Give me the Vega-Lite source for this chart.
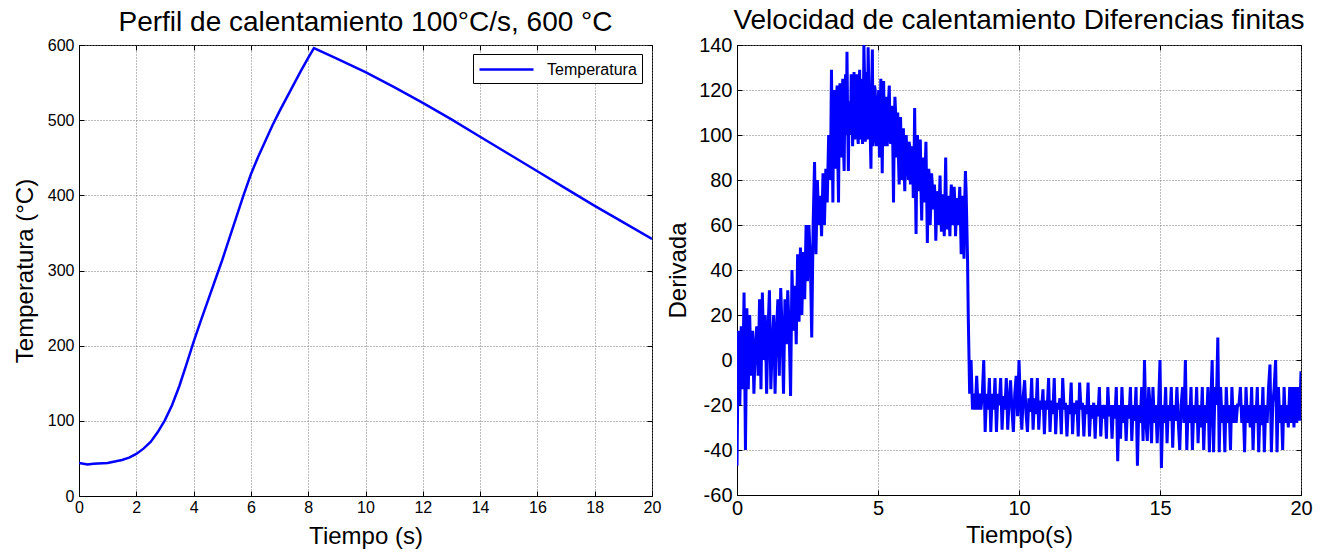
{
  "$schema": "https://vega.github.io/schema/vega-lite/v6.json",
  "padding": {"left": 12, "top": 6, "right": 0, "bottom": 0},
  "background": "white",
  "spacing": 85,
  "bounds": "flush",
  "datasets": {
    "temp": [
      {"t": 0, "T": 44, "serie": "Temperatura"},
      {"t": 0.3, "T": 42, "serie": "Temperatura"},
      {"t": 0.5, "T": 43, "serie": "Temperatura"},
      {"t": 1, "T": 44, "serie": "Temperatura"},
      {"t": 1.5, "T": 48, "serie": "Temperatura"},
      {"t": 1.75, "T": 51, "serie": "Temperatura"},
      {"t": 2, "T": 56, "serie": "Temperatura"},
      {"t": 2.25, "T": 63, "serie": "Temperatura"},
      {"t": 2.5, "T": 72, "serie": "Temperatura"},
      {"t": 2.75, "T": 85, "serie": "Temperatura"},
      {"t": 3, "T": 101, "serie": "Temperatura"},
      {"t": 3.25, "T": 121, "serie": "Temperatura"},
      {"t": 3.5, "T": 146, "serie": "Temperatura"},
      {"t": 3.75, "T": 175, "serie": "Temperatura"},
      {"t": 4, "T": 205, "serie": "Temperatura"},
      {"t": 4.25, "T": 233, "serie": "Temperatura"},
      {"t": 4.5, "T": 260, "serie": "Temperatura"},
      {"t": 4.75, "T": 287, "serie": "Temperatura"},
      {"t": 5, "T": 314, "serie": "Temperatura"},
      {"t": 5.25, "T": 343, "serie": "Temperatura"},
      {"t": 5.5, "T": 372, "serie": "Temperatura"},
      {"t": 5.75, "T": 401, "serie": "Temperatura"},
      {"t": 6, "T": 428, "serie": "Temperatura"},
      {"t": 6.25, "T": 451, "serie": "Temperatura"},
      {"t": 6.5, "T": 472, "serie": "Temperatura"},
      {"t": 6.75, "T": 493, "serie": "Temperatura"},
      {"t": 7, "T": 512, "serie": "Temperatura"},
      {"t": 7.25, "T": 530, "serie": "Temperatura"},
      {"t": 7.5, "T": 548, "serie": "Temperatura"},
      {"t": 7.75, "T": 566, "serie": "Temperatura"},
      {"t": 8, "T": 583, "serie": "Temperatura"},
      {"t": 8.2, "T": 596, "serie": "Temperatura"},
      {"t": 9, "T": 582, "serie": "Temperatura"},
      {"t": 10, "T": 564, "serie": "Temperatura"},
      {"t": 11, "T": 544, "serie": "Temperatura"},
      {"t": 12, "T": 523, "serie": "Temperatura"},
      {"t": 13, "T": 501, "serie": "Temperatura"},
      {"t": 14, "T": 478, "serie": "Temperatura"},
      {"t": 15, "T": 455, "serie": "Temperatura"},
      {"t": 16, "T": 432, "serie": "Temperatura"},
      {"t": 17, "T": 409, "serie": "Temperatura"},
      {"t": 18, "T": 386, "serie": "Temperatura"},
      {"t": 19, "T": 364, "serie": "Temperatura"},
      {"t": 20, "T": 342, "serie": "Temperatura"}
    ],
    "deriv": [
      {"t":0.00,"d":-47},{"t":0.05,"d":13},{"t":0.10,"d":-20},{"t":0.15,"d":15},{"t":0.20,"d":-13},{"t":0.25,"d":30},{"t":0.30,"d":-40},{"t":0.35,"d":23},{"t":0.40,"d":-13},{"t":0.45,"d":20},
      {"t":0.50,"d":-7},{"t":0.55,"d":13},{"t":0.60,"d":-15},{"t":0.65,"d":7},{"t":0.70,"d":15},{"t":0.75,"d":-7},{"t":0.80,"d":27},{"t":0.85,"d":-13},{"t":0.90,"d":30},{"t":0.95,"d":0},
      {"t":1.00,"d":20},{"t":1.05,"d":-15},{"t":1.10,"d":13},{"t":1.15,"d":31},{"t":1.20,"d":-13},{"t":1.25,"d":7},{"t":1.30,"d":20},{"t":1.35,"d":-15},{"t":1.40,"d":13},{"t":1.45,"d":27},
      {"t":1.50,"d":-7},{"t":1.55,"d":32},{"t":1.60,"d":13},{"t":1.65,"d":-15},{"t":1.70,"d":27},{"t":1.75,"d":7},{"t":1.80,"d":31},{"t":1.85,"d":13},{"t":1.90,"d":-16},{"t":1.95,"d":40},
      {"t":2.00,"d":13},{"t":2.05,"d":33},{"t":2.10,"d":7},{"t":2.15,"d":47},{"t":2.20,"d":17},{"t":2.25,"d":50},{"t":2.30,"d":20},{"t":2.35,"d":48},{"t":2.40,"d":27},{"t":2.45,"d":60},
      {"t":2.50,"d":35},{"t":2.55,"d":60},{"t":2.60,"d":45},{"t":2.65,"d":10},{"t":2.70,"d":60},{"t":2.75,"d":88},{"t":2.80,"d":47},{"t":2.85,"d":80},{"t":2.90,"d":60},{"t":2.95,"d":73},
      {"t":3.00,"d":55},{"t":3.05,"d":83},{"t":3.10,"d":60},{"t":3.15,"d":85},{"t":3.20,"d":70},{"t":3.25,"d":100},{"t":3.30,"d":80},{"t":3.35,"d":129},{"t":3.40,"d":70},{"t":3.45,"d":120},
      {"t":3.50,"d":85},{"t":3.55,"d":122},{"t":3.60,"d":70},{"t":3.65,"d":123},{"t":3.70,"d":90},{"t":3.75,"d":125},{"t":3.80,"d":84},{"t":3.85,"d":127},{"t":3.90,"d":137},{"t":3.95,"d":84},
      {"t":4.00,"d":110},{"t":4.05,"d":127},{"t":4.10,"d":95},{"t":4.15,"d":128},{"t":4.20,"d":105},{"t":4.25,"d":127},{"t":4.30,"d":96},{"t":4.35,"d":129},{"t":4.40,"d":110},{"t":4.45,"d":96},
      {"t":4.50,"d":140},{"t":4.55,"d":97},{"t":4.60,"d":128},{"t":4.65,"d":139},{"t":4.70,"d":105},{"t":4.75,"d":85},{"t":4.80,"d":138},{"t":4.85,"d":100},{"t":4.90,"d":120},{"t":4.95,"d":95},
      {"t":5.00,"d":115},{"t":5.05,"d":90},{"t":5.10,"d":125},{"t":5.15,"d":83},{"t":5.20,"d":124},{"t":5.25,"d":95},{"t":5.30,"d":117},{"t":5.35,"d":100},{"t":5.40,"d":122},{"t":5.45,"d":96},
      {"t":5.50,"d":113},{"t":5.55,"d":70},{"t":5.60,"d":117},{"t":5.65,"d":90},{"t":5.70,"d":110},{"t":5.75,"d":78},{"t":5.80,"d":108},{"t":5.85,"d":80},{"t":5.90,"d":103},{"t":5.95,"d":75},
      {"t":6.00,"d":100},{"t":6.05,"d":86},{"t":6.10,"d":97},{"t":6.15,"d":78},{"t":6.20,"d":93},{"t":6.25,"d":72},{"t":6.30,"d":112},{"t":6.35,"d":56},{"t":6.40,"d":100},{"t":6.45,"d":75},
      {"t":6.50,"d":98},{"t":6.55,"d":62},{"t":6.60,"d":90},{"t":6.65,"d":70},{"t":6.70,"d":97},{"t":6.75,"d":52},{"t":6.80,"d":85},{"t":6.85,"d":60},{"t":6.90,"d":83},{"t":6.95,"d":67},
      {"t":7.00,"d":78},{"t":7.05,"d":53},{"t":7.10,"d":73},{"t":7.15,"d":60},{"t":7.20,"d":82},{"t":7.25,"d":57},{"t":7.30,"d":73},{"t":7.35,"d":55},{"t":7.40,"d":90},{"t":7.45,"d":58},
      {"t":7.50,"d":73},{"t":7.55,"d":55},{"t":7.60,"d":78},{"t":7.65,"d":60},{"t":7.70,"d":77},{"t":7.75,"d":55},{"t":7.80,"d":72},{"t":7.85,"d":60},{"t":7.90,"d":77},{"t":7.95,"d":47},
      {"t":8.00,"d":73},{"t":8.05,"d":45},{"t":8.10,"d":84},{"t":8.15,"d":60},{"t":8.20,"d":20},{"t":8.25,"d":-15},{"t":8.30,"d":0},{"t":8.35,"d":-22},{"t":8.40,"d":-15},{"t":8.45,"d":-22},
      {"t":8.50,"d":-7},{"t":8.55,"d":-22},{"t":8.60,"d":-15},{"t":8.65,"d":-22},{"t":8.70,"d":-15},{"t":8.75,"d":0},{"t":8.80,"d":-32},{"t":8.85,"d":-15},{"t":8.90,"d":-22},{"t":8.95,"d":-8},
      {"t":9.00,"d":-32},{"t":9.05,"d":-15},{"t":9.10,"d":-22},{"t":9.15,"d":-8},{"t":9.20,"d":-32},{"t":9.25,"d":-15},{"t":9.30,"d":-20},{"t":9.35,"d":-8},{"t":9.40,"d":-31},{"t":9.45,"d":-16},
      {"t":9.50,"d":-22},{"t":9.55,"d":-8},{"t":9.60,"d":-31},{"t":9.65,"d":-18},{"t":9.70,"d":-9},{"t":9.75,"d":-22},{"t":9.80,"d":-32},{"t":9.85,"d":-15},{"t":9.90,"d":-7},{"t":9.95,"d":-25},
      {"t":10.00,"d":0},{"t":10.05,"d":-20},{"t":10.10,"d":-31},{"t":10.15,"d":-16},{"t":10.20,"d":-9},{"t":10.25,"d":-24},{"t":10.30,"d":-32},{"t":10.35,"d":-17},{"t":10.40,"d":-23},{"t":10.45,"d":-8},
      {"t":10.50,"d":-31},{"t":10.55,"d":-17},{"t":10.60,"d":-24},{"t":10.65,"d":-8},{"t":10.70,"d":-31},{"t":10.75,"d":-18},{"t":10.80,"d":-22},{"t":10.85,"d":-13},{"t":10.90,"d":-33},{"t":10.95,"d":-18},
      {"t":11.00,"d":-22},{"t":11.05,"d":-8},{"t":11.10,"d":-32},{"t":11.15,"d":-18},{"t":11.20,"d":-24},{"t":11.25,"d":-8},{"t":11.30,"d":-33},{"t":11.35,"d":-19},{"t":11.40,"d":-22},{"t":11.45,"d":-17},
      {"t":11.50,"d":-33},{"t":11.55,"d":-8},{"t":11.60,"d":-22},{"t":11.65,"d":-19},{"t":11.70,"d":-34},{"t":11.75,"d":-20},{"t":11.80,"d":-24},{"t":11.85,"d":-10},{"t":11.90,"d":-33},{"t":11.95,"d":-19},
      {"t":12.00,"d":-24},{"t":12.05,"d":-18},{"t":12.10,"d":-34},{"t":12.15,"d":-10},{"t":12.20,"d":-22},{"t":12.25,"d":-19},{"t":12.30,"d":-34},{"t":12.35,"d":-20},{"t":12.40,"d":-24},{"t":12.45,"d":-10},
      {"t":12.50,"d":-34},{"t":12.55,"d":-20},{"t":12.60,"d":-26},{"t":12.65,"d":-19},{"t":12.70,"d":-35},{"t":12.75,"d":-20},{"t":12.80,"d":-25},{"t":12.85,"d":-12},{"t":12.90,"d":-34},{"t":12.95,"d":-20},
      {"t":13.00,"d":-26},{"t":13.05,"d":-20},{"t":13.10,"d":-35},{"t":13.15,"d":-12},{"t":13.20,"d":-25},{"t":13.25,"d":-20},{"t":13.30,"d":-35},{"t":13.35,"d":-20},{"t":13.40,"d":-26},{"t":13.45,"d":-12},
      {"t":13.50,"d":-45},{"t":13.55,"d":-20},{"t":13.60,"d":-35},{"t":13.65,"d":-12},{"t":13.70,"d":-28},{"t":13.75,"d":-20},{"t":13.80,"d":-36},{"t":13.85,"d":-20},{"t":13.90,"d":-26},{"t":13.95,"d":-12},
      {"t":14.00,"d":-36},{"t":14.05,"d":-20},{"t":14.10,"d":-27},{"t":14.15,"d":-12},{"t":14.20,"d":-47},{"t":14.25,"d":-20},{"t":14.30,"d":-28},{"t":14.35,"d":-12},{"t":14.40,"d":-36},{"t":14.45,"d":0},
      {"t":14.50,"d":-28},{"t":14.55,"d":-36},{"t":14.60,"d":-12},{"t":14.65,"d":-20},{"t":14.70,"d":-37},{"t":14.75,"d":-12},{"t":14.80,"d":-28},{"t":14.85,"d":-20},{"t":14.90,"d":-37},{"t":14.95,"d":-20},
      {"t":15.00,"d":0},{"t":15.05,"d":-48},{"t":15.10,"d":-20},{"t":15.15,"d":-28},{"t":15.20,"d":-12},{"t":15.25,"d":-37},{"t":15.30,"d":-20},{"t":15.35,"d":-27},{"t":15.40,"d":-12},{"t":15.45,"d":-39},
      {"t":15.50,"d":-20},{"t":15.55,"d":-27},{"t":15.60,"d":-12},{"t":15.65,"d":-28},{"t":15.70,"d":-40},{"t":15.75,"d":-20},{"t":15.80,"d":-12},{"t":15.85,"d":-28},{"t":15.90,"d":0},{"t":15.95,"d":-40},
      {"t":16.00,"d":-20},{"t":16.05,"d":-28},{"t":16.10,"d":-12},{"t":16.15,"d":-40},{"t":16.20,"d":-20},{"t":16.25,"d":-28},{"t":16.30,"d":-12},{"t":16.35,"d":-37},{"t":16.40,"d":-20},{"t":16.45,"d":-30},
      {"t":16.50,"d":-12},{"t":16.55,"d":-40},{"t":16.60,"d":-20},{"t":16.65,"d":-28},{"t":16.70,"d":-12},{"t":16.75,"d":-41},{"t":16.80,"d":-20},{"t":16.85,"d":0},{"t":16.90,"d":-41},{"t":16.95,"d":-12},
      {"t":17.00,"d":-20},{"t":17.05,"d":10},{"t":17.10,"d":-41},{"t":17.15,"d":-12},{"t":17.20,"d":-28},{"t":17.25,"d":-20},{"t":17.30,"d":-41},{"t":17.35,"d":-12},{"t":17.40,"d":-28},{"t":17.45,"d":-20},
      {"t":17.50,"d":-40},{"t":17.55,"d":-12},{"t":17.60,"d":-28},{"t":17.65,"d":-20},{"t":17.70,"d":-28},{"t":17.75,"d":-20},{"t":17.80,"d":-20},{"t":17.85,"d":-12},{"t":17.90,"d":-28},{"t":17.95,"d":-20},
      {"t":18.00,"d":-41},{"t":18.05,"d":-12},{"t":18.10,"d":-28},{"t":18.15,"d":-20},{"t":18.20,"d":-30},{"t":18.25,"d":-12},{"t":18.30,"d":-40},{"t":18.35,"d":-20},{"t":18.40,"d":-28},{"t":18.45,"d":-12},
      {"t":18.50,"d":-41},{"t":18.55,"d":-20},{"t":18.60,"d":-29},{"t":18.65,"d":-12},{"t":18.70,"d":-41},{"t":18.75,"d":-20},{"t":18.80,"d":-28},{"t":18.85,"d":-12},{"t":18.90,"d":-2},{"t":18.95,"d":-41},
      {"t":19.00,"d":-20},{"t":19.05,"d":-12},{"t":19.10,"d":0},{"t":19.15,"d":-41},{"t":19.20,"d":-12},{"t":19.25,"d":-28},{"t":19.30,"d":-20},{"t":19.35,"d":-40},{"t":19.40,"d":-12},{"t":19.45,"d":-28},
      {"t":19.50,"d":-20},{"t":19.55,"d":-30},{"t":19.60,"d":-12},{"t":19.65,"d":-28},{"t":19.70,"d":-12},{"t":19.75,"d":-30},{"t":19.80,"d":-12},{"t":19.85,"d":-28},{"t":19.90,"d":-12},{"t":19.95,"d":-27},
      {"t":20.00,"d":-5},
      {"t":3.325,"d":95},{"t":3.375,"d":100},{"t":3.425,"d":110},{"t":3.475,"d":95},{"t":3.525,"d":115},{"t":3.575,"d":90},{"t":3.625,"d":110},{"t":3.675,"d":100},{"t":3.725,"d":112},{"t":3.775,"d":95},
      {"t":3.825,"d":118},{"t":3.875,"d":100},{"t":3.925,"d":105},{"t":3.975,"d":115},{"t":4.025,"d":100},{"t":4.075,"d":120},{"t":4.125,"d":110},{"t":4.175,"d":98},{"t":4.225,"d":125},{"t":4.275,"d":100},
      {"t":4.325,"d":120},{"t":4.375,"d":98},{"t":4.425,"d":125},{"t":4.475,"d":100},{"t":4.525,"d":125},{"t":4.575,"d":110},{"t":4.625,"d":98},{"t":4.675,"d":120},{"t":4.725,"d":100},{"t":4.775,"d":120},
      {"t":4.825,"d":95},{"t":4.875,"d":122},{"t":4.925,"d":100},{"t":4.975,"d":110},{"t":5.025,"d":120},{"t":5.075,"d":100},{"t":5.125,"d":110},{"t":5.175,"d":115},{"t":5.225,"d":100},{"t":5.275,"d":110},
      {"t":5.325,"d":95},{"t":5.375,"d":115},{"t":5.425,"d":100},{"t":5.475,"d":110},{"t":5.525,"d":95},{"t":5.575,"d":100},{"t":5.625,"d":110},{"t":5.675,"d":95},{"t":5.725,"d":90},{"t":5.775,"d":100},
      {"t":5.825,"d":90},{"t":5.875,"d":95},{"t":5.925,"d":85},{"t":5.975,"d":95},{"t":6.025,"d":90},{"t":6.075,"d":80},{"t":6.125,"d":95},{"t":6.175,"d":85},{"t":6.225,"d":95},{"t":6.275,"d":85},
      {"t":6.325,"d":80},{"t":6.375,"d":90},{"t":6.425,"d":80},{"t":6.475,"d":90},{"t":6.525,"d":75},{"t":6.575,"d":85},{"t":6.625,"d":78},{"t":6.675,"d":85},{"t":6.725,"d":75},{"t":6.775,"d":72},
      {"t":6.825,"d":80},{"t":6.875,"d":70},{"t":6.925,"d":78},{"t":6.975,"d":70},{"t":7.025,"d":72},{"t":7.075,"d":65},{"t":7.125,"d":75},{"t":7.175,"d":70},{"t":7.225,"d":65},{"t":7.275,"d":73},
      {"t":7.325,"d":62},{"t":7.375,"d":72},{"t":7.425,"d":65},{"t":7.475,"d":70},{"t":7.525,"d":62},{"t":7.575,"d":70},{"t":7.625,"d":65},{"t":7.675,"d":62},{"t":7.725,"d":70},{"t":7.775,"d":65},
      {"t":7.825,"d":62},{"t":7.875,"d":70},{"t":7.925,"d":62},{"t":7.975,"d":65},{"t":8.025,"d":60},{"t":8.075,"d":70},{"t":8.125,"d":75},{"t":8.175,"d":45}
    ]
  },
  "hconcat": [
    {
      "width": 573,
      "height": 451,
      "data": {"name": "temp"},
      "title": {"text": "Perfil de calentamiento 100°C/s, 600 °C", "fontSize": 28, "fontWeight": "normal", "font": "Liberation Sans", "offset": 0, "color": "black"},
      "layer": [
        {
          "mark": {"type": "line", "strokeWidth": 2.5, "clip": true},
          "encoding": {
            "x": {"field": "t", "type": "quantitative", "scale": {"domain": [0, 20], "nice": false, "zero": false},
                  "axis": {"title": "Tiempo (s)", "values": [0,2,4,6,8,10,12,14,16,18,20], "labelFontSize": 16, "titleFontSize": 24, "labelPadding": 8, "titlePadding": 9}},
            "y": {"field": "T", "type": "quantitative", "scale": {"domain": [0, 600], "nice": false},
                  "axis": {"title": "Temperatura (°C)", "values": [0,100,200,300,400,500,600], "labelFontSize": 16, "titleFontSize": 24, "labelPadding": 10, "titlePadding": 10}},
            "color": {"field": "serie", "type": "nominal", "scale": {"range": ["#0000ff"]},
                      "legend": {"title": null, "orient": "none", "legendX": 394, "legendY": 9, "symbolType": "M-3,0L3,0", "symbolSize": 324, "symbolOffset": 18, "symbolStrokeWidth": 2.5, "labelFontSize": 16, "labelFont": "Liberation Sans", "labelColor": "black", "labelOffset": 30, "strokeColor": "black", "fillColor": "white", "padding": 5}}
          }
        },
        {
          "mark": {"type": "line", "opacity": 0},
          "encoding": {
            "x": {"field": "t", "type": "quantitative", "axis": {"orient": "top", "title": null, "labels": false, "domain": false, "grid": false, "values": [0,2,4,6,8,10,12,14,16,18,20]}},
            "y": {"field": "T", "type": "quantitative", "axis": {"orient": "right", "title": null, "labels": false, "domain": false, "grid": false, "values": [0,100,200,300,400,500,600]}}
          }
        }
      ],
      "resolve": {"axis": {"x": "independent", "y": "independent"}}
    },
    {
      "width": 564,
      "height": 450,
      "data": {"name": "deriv"},
      "title": {"text": "Velocidad de calentamiento Diferencias finitas", "fontSize": 28, "fontWeight": "normal", "font": "Liberation Sans", "offset": 0, "color": "black"},
      "layer": [
        {
          "mark": {"type": "line", "strokeWidth": 3, "color": "#0000ff", "clip": true},
          "encoding": {
            "x": {"field": "t", "type": "quantitative", "scale": {"domain": [0, 20], "nice": false, "zero": false},
                  "axis": {"title": "Tiempo(s)", "values": [0,5,10,15,20], "labelFontSize": 20, "titleFontSize": 24, "labelPadding": 8, "titlePadding": 5}},
            "y": {"field": "d", "type": "quantitative", "scale": {"domain": [-60, 140], "nice": false},
                  "axis": {"title": "Derivada", "values": [-60,-40,-20,0,20,40,60,80,100,120,140], "labelExpr": "replace(datum.label, '\u2212', '-')", "labelFontSize": 20, "titleFontSize": 24, "labelPadding": 10, "titlePadding": 8}}
          }
        },
        {
          "mark": {"type": "line", "opacity": 0},
          "encoding": {
            "x": {"field": "t", "type": "quantitative", "axis": {"orient": "top", "title": null, "labels": false, "domain": false, "grid": false, "values": [0,5,10,15,20]}},
            "y": {"field": "d", "type": "quantitative", "axis": {"orient": "right", "title": null, "labels": false, "domain": false, "grid": false, "values": [-60,-40,-20,0,20,40,60,80,100,120,140]}}
          }
        }
      ],
      "resolve": {"axis": {"x": "independent", "y": "independent"}}
    }
  ],
  "config": {
    "font": "Liberation Sans",
    "view": {"stroke": "black", "strokeWidth": 1},
    "axis": {
      "domainColor": "black",
      "tickColor": "black",
      "tickSize": -5,
      "labelColor": "black",
      "titleColor": "black",
      "titleFontWeight": "normal",
      "labelFont": "Liberation Sans",
      "titleFont": "Liberation Sans",
      "gridColor": "#777777",
      "gridDash": [1, 2],
      "gridOpacity": 1,
      "gridWidth": 1,
      "labelFlush": false,
      "labelOverlap": false
    }
  }
}
